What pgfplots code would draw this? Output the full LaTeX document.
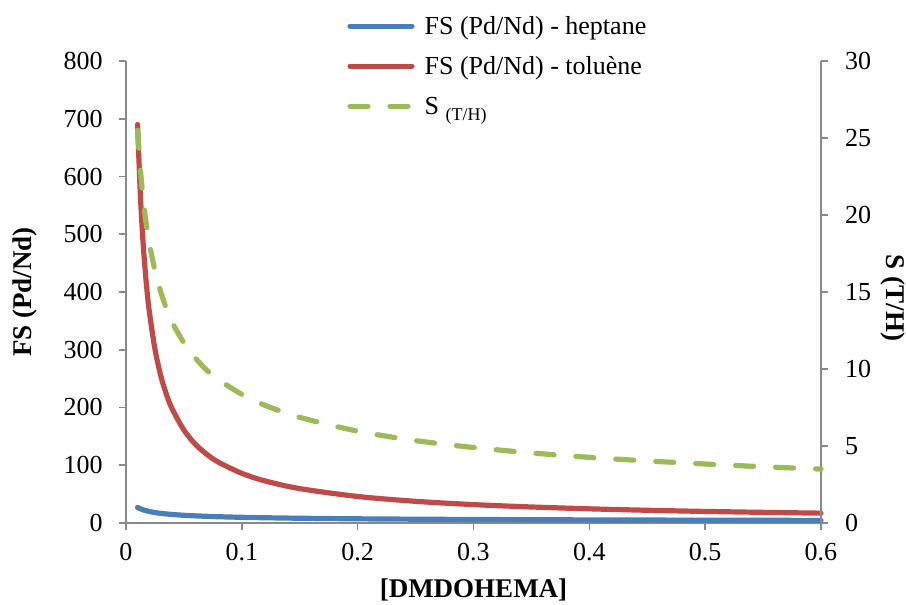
\documentclass[border=0pt]{standalone}
\usepackage{fontspec}
\setmainfont{Liberation Serif}
\usepackage{pgfplots}
\pgfplotsset{compat=1.18}
\definecolor{cblue}{HTML}{4A7EBB}
\definecolor{cred}{HTML}{BE4B48}
\definecolor{cgreen}{HTML}{9BBB59}
\definecolor{axisgray}{HTML}{898989}
\pgfplotsset{
  common/.style={
    scale only axis, width=347.5pt, height=231pt,
    xmin=0, xmax=0.6,
    axis line style={draw=axisgray, line width=0.8pt, -},
    tick style={draw=axisgray, line width=0.8pt},
    major tick length=3.5pt,
    tick align=outside,
    /pgf/number format/assume math mode=true,
    tick label style={font=\fontsize{13}{15.6}\selectfont},
    label style={font=\fontsize{13.5}{16}\selectfont\bfseries},
    clip=false,
  }
}
\begin{document}
\fontsize{13}{15.6}\selectfont
\begin{tikzpicture}
\begin{axis}[common, name=ax,
  axis x line*=bottom, axis y line*=left,
  ymin=0, ymax=800, ytick={0,100,200,300,400,500,600,700,800},
  xtick={0,0.1,0.2,0.3,0.4,0.5,0.6},
  xticklabels={0,0.1,0.2,0.3,0.4,0.5,0.6},
  xticklabel style={yshift=-2pt},
  yticklabel style={xshift=-3.7pt},
  xlabel={[DMDOHEMA]}, ylabel={FS (Pd/Nd)},
  xlabel style={at={(axis description cs:0.5,-0.145)}, anchor=center},
  ylabel style={at={(axis description cs:-0.1453,0.5)}, anchor=center},
]
\addplot[cblue, line width=2.6pt, line cap=round, line join=round, smooth] coordinates {
(0.01,27) (0.0125,24.5) (0.015,22.6) (0.0175,21.1) (0.02,19.9) (0.025,18.0)
(0.03,16.7) (0.035,15.6) (0.04,14.7) (0.05,13.3) (0.06,12.3) (0.07,11.5)
(0.08,10.8) (0.1,9.8) (0.12,9.05) (0.15,8.2) (0.2,7.2) (0.25,6.55) (0.3,6.05)
(0.35,5.65) (0.4,5.33) (0.45,5.06) (0.5,4.83) (0.55,4.63) (0.6,4.46)};
\addplot[cred, line width=2.6pt, line cap=round, line join=round, smooth] coordinates {
(0.01,690) (0.0125,564) (0.015,478) (0.0175,416) (0.02,368) (0.025,301)
(0.03,255) (0.035,222) (0.04,197) (0.05,161) (0.06,136) (0.07,118.6)
(0.08,105) (0.1,86) (0.12,72.8) (0.15,59.5) (0.2,45.9) (0.25,37.5) (0.3,31.8)
(0.35,27.7) (0.4,24.5) (0.45,22.0) (0.5,20.0) (0.55,18.4) (0.6,17.0)};
\end{axis}
\begin{axis}[common,
  axis x line=none, axis y line*=right,
  ymin=0, ymax=30, ytick={0,5,10,15,20,25,30},
  yticklabel style={xshift=4pt},
  ylabel={S (T/H)},
  ylabel style={at={(axis description cs:1.1036,0.487)}, anchor=center, rotate=180},
  legend image code/.code={\draw[#1] (0pt,1pt) -- (31pt,1pt);},
  legend cell align=left,
  legend style={at={(axis description cs:0.318,1.098)}, anchor=north west,
    draw=none, fill=none, inner sep=0pt, row sep=8pt,
    font=\fontsize{13}{15.6}\selectfont,
    nodes={inner sep=0pt, text height=9pt, text depth=3pt},
    /tikz/every odd column/.append style={column sep=5pt}},
]
\addlegendimage{cblue, line width=2.6pt, line cap=round}
\addlegendentry{FS (Pd/Nd) - heptane}
\addlegendimage{cred, line width=2.6pt, line cap=round}
\addlegendentry{FS (Pd/Nd) - toluène}
\addplot[cgreen, line width=2.6pt, line cap=round, dash pattern=on 9pt off 11pt, smooth] coordinates {
(0.01,25.5) (0.0125,22.9) (0.015,20.9) (0.0175,19.4) (0.02,18.2) (0.025,16.4)
(0.03,15.0) (0.035,13.9) (0.04,13.0) (0.05,11.7) (0.06,10.7) (0.07,9.9)
(0.08,9.3) (0.1,8.35) (0.12,7.64) (0.15,6.86) (0.2,5.96) (0.25,5.35) (0.3,4.90)
(0.35,4.55) (0.4,4.26) (0.45,4.03) (0.5,3.83) (0.55,3.65) (0.6,3.50)};
\addlegendentry{S \raisebox{-0.55ex}{\fontsize{9}{10}\selectfont (T/H)}}
\end{axis}
\pgfresetboundingbox
\path[use as bounding box] ([shift={(-63pt,-41pt)}]ax.south west) rectangle ([shift={(42.5pt,30.5pt)}]ax.north east);
\end{tikzpicture}
\end{document}
